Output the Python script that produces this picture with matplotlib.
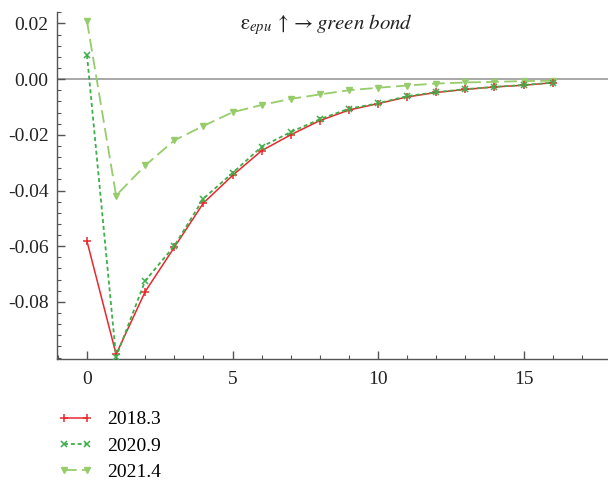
import numpy as np
import matplotlib.pyplot as plt
from matplotlib.ticker import MultipleLocator, FixedLocator

plt.rcParams['font.family'] = ['Liberation Serif', 'DejaVu Serif']
plt.rcParams['mathtext.fontset'] = 'stix'

steps = np.arange(17)
labels = ['2018.3', '2020.9', '2021.4']
x_ticks = [0, 5, 10, 15]
y_ticks = [-0.08, -0.06, -0.04, -0.02, 0.00, 0.02]

irf_2018_3 = [-0.0582, -0.0988, -0.0763, -0.0604, -0.0445, -0.0346, -0.0257, -0.0200,
              -0.0149, -0.0111, -0.0088, -0.0064, -0.0048, -0.0037, -0.0028, -0.0022, -0.0013]
irf_2020_9 = [0.0086, -0.0998, -0.0724, -0.0599, -0.0429, -0.0337, -0.0243, -0.0190,
              -0.0144, -0.0106, -0.0087, -0.0061, -0.0047, -0.0036, -0.0028, -0.0021, -0.0013]
irf_2021_4 = [0.0208, -0.0418, -0.0310, -0.0220, -0.0168, -0.0119, -0.0093, -0.0071,
              -0.0055, -0.0040, -0.0031, -0.0023, -0.0016, -0.0012, -0.0010, -0.0007, -0.0006]

fig = plt.figure(figsize=(6.08, 4.88), dpi=100)
ax = fig.add_axes([57 / 608, 1 - 359 / 488, 551 / 608, 347 / 488])

ax.axhline(0, color='#999999', lw=1.2, zorder=1)

ax.plot(steps, irf_2018_3, color='#e8282c', lw=1.1, marker='+', ms=6, mew=1.1,
        label=labels[0], zorder=3)
ax.plot(steps, irf_2020_9, color='#3db04a', lw=1.3, ls=(0, (2.2, 1.6)), marker='x', ms=4.5,
        mew=1.1, label=labels[1], zorder=4)
ax.plot(steps, irf_2021_4, color='#96cc6a', lw=1.3, ls=(0, (7, 3)), marker='v', ms=5,
        label=labels[2], zorder=2)

ax.set_xlim(-1.03, 17.9)
ax.set_ylim(-0.1005, 0.0241)

ax.xaxis.set_major_locator(FixedLocator(x_ticks))
ax.xaxis.set_minor_locator(MultipleLocator(1))
ax.yaxis.set_major_locator(FixedLocator(y_ticks))
ax.yaxis.set_minor_locator(MultipleLocator(0.004))
ax.yaxis.set_major_formatter(plt.FuncFormatter(lambda v, p: f'{v:.2f}'.replace('-0.00', '0.00')))

for s in ['top', 'right']:
    ax.spines[s].set_visible(False)
for s in ['left', 'bottom']:
    ax.spines[s].set_color('#555555')
    ax.spines[s].set_linewidth(1.0)

ax.tick_params(which='both', direction='in', color='#555555', labelsize=14, labelcolor='#222222')
ax.tick_params(which='major', length=6, width=1.0)
ax.tick_params(which='minor', length=3, width=0.8)
ax.tick_params(axis='x', pad=9)
ax.tick_params(axis='y', pad=6)

fig.text(326 / 608, 1 - 25 / 488, r'$\mathrm{ε}_{epu}\,\uparrow\rightarrow\mathit{green\ bond}$',
         ha='center', va='center', fontsize=15, color='#222222')

fig.legend(loc='upper left', bbox_to_anchor=(50 / 608, 1 - 403 / 488), frameon=False,
           fontsize=14, handlelength=1.8, handletextpad=0.72, labelspacing=0.45,
           borderaxespad=0, numpoints=2)

fig.savefig('out.png', dpi=100)
